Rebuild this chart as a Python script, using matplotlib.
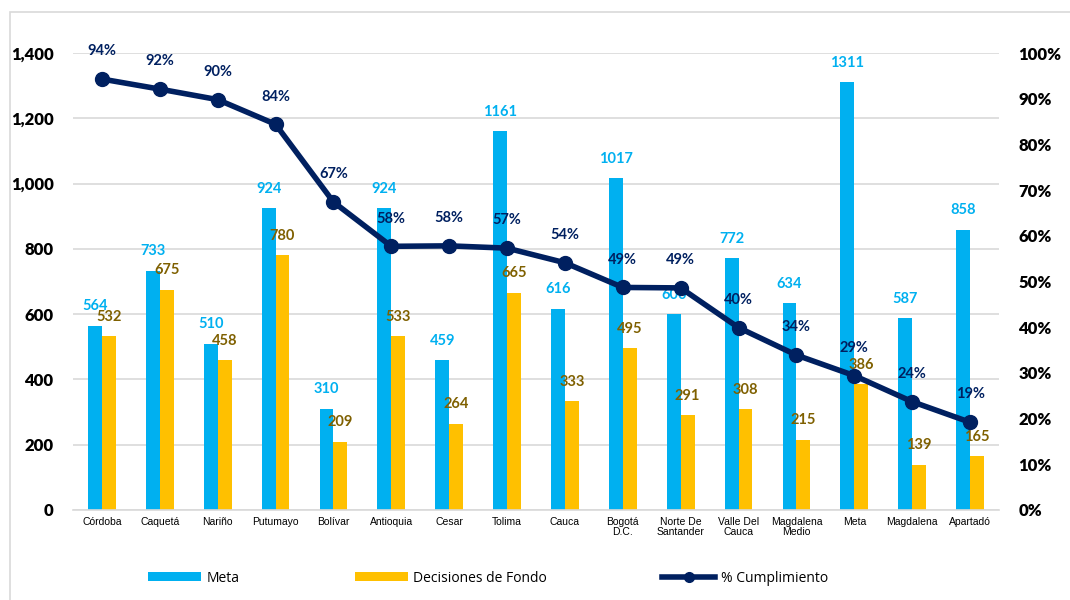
import matplotlib.pyplot as plt
import numpy as np
from matplotlib.patches import Rectangle
from matplotlib.ticker import FuncFormatter

# Data
regiones = ['Córdoba', 'Caquetá', 'Nariño', 'Putumayo', 'Bolívar', 'Antioquia',
            'Cesar', 'Tolima', 'Cauca', 'Bogotá\nD.C.', 'Norte De\nSantander',
            'Valle Del\nCauca', 'Magdalena\nMedio', 'Meta', 'Magdalena', 'Apartadó']
meta = [564, 733, 510, 924, 310, 924, 459, 1161, 616, 1017, 600, 772, 634, 1311, 587, 858]
decisiones = [532, 675, 458, 780, 209, 533, 264, 665, 333, 495, 291, 308, 215, 386, 139, 165]
cumplimiento = [0.943, 0.921, 0.898, 0.844, 0.674, 0.577, 0.578, 0.573,
                0.541, 0.487, 0.486, 0.399, 0.339, 0.294, 0.237, 0.192]

C_META = '#00B0F0'
C_DEC = '#FFC000'
C_DEC_TXT = '#7F6000'
C_LINE = '#002060'
FONT = 'Lato'

fig = plt.figure(figsize=(10.7, 6), dpi=100)
fig.patches.append(Rectangle((10 / 1070, -0.05), 1.1, 0.05 + (600 - 12) / 600,
                             transform=fig.transFigure, fill=False,
                             edgecolor='#D9D9D9', linewidth=1.2))

ax1 = fig.add_axes([73 / 1070, 90 / 600, 926 / 1070, 457 / 600])
ax2 = ax1.twinx()

x = np.arange(len(regiones))
w = 0.24

b1 = ax1.bar(x - w / 2, meta, w, color=C_META, label='Meta', zorder=2)
b2 = ax1.bar(x + w / 2, decisiones, w, color=C_DEC, label='Decisiones de Fondo', zorder=2)

for xi, v in zip(x, meta):
    ax1.annotate(str(v), (xi - w / 2, v), xytext=(0, 14), textcoords='offset points',
                 ha='center', va='center', color=C_META, fontsize=10.5,
                 fontweight='bold', family=FONT, annotation_clip=False, zorder=5)
for xi, v in zip(x, decisiones):
    ax1.annotate(str(v), (xi + w / 2, v), xytext=(0, 14), textcoords='offset points',
                 ha='center', va='center', color=C_DEC_TXT, fontsize=10.5,
                 fontweight='bold', family=FONT, annotation_clip=False, zorder=5)

ax1.set_ylim(0, 1400)
ax1.set_yticks(range(0, 1401, 200))
ax1.yaxis.set_major_formatter(FuncFormatter(lambda v, p: f'{int(v):,}'))
ax1.set_xlim(-0.5, len(regiones) - 0.5)
ax1.set_xticks(x)
ax1.set_xticklabels(regiones, fontsize=7.5, family='Liberation Sans', linespacing=1.0)
ax1.grid(axis='y', color='#D9D9D9', linewidth=1.2, zorder=0)
ax1.set_axisbelow(True)

ln, = ax2.plot(x, cumplimiento, color=C_LINE, linewidth=4, marker='o',
               markersize=10, label='% Cumplimiento', zorder=4)
for xi, v in zip(x, cumplimiento):
    ax2.annotate(f'{round(v * 100):.0f}%', (xi, v), xytext=(0, 20),
                 textcoords='offset points', ha='center', va='center',
                 color=C_LINE, fontsize=10.5, fontweight='bold', family=FONT,
                 annotation_clip=False, zorder=6)
ax2.set_ylim(0, 1.0)
ax2.set_yticks(np.arange(0, 1.01, 0.1))
ax2.yaxis.set_major_formatter(FuncFormatter(lambda v, p: f'{round(v * 100)}%'))
ax2.set_zorder(ax1.get_zorder() + 1)
ax2.patch.set_visible(False)

for ax in (ax1, ax2):
    for s in ax.spines.values():
        s.set_visible(False)
    ax.tick_params(length=0)
ax1.spines['bottom'].set_visible(True)
ax1.spines['bottom'].set_color('#D9D9D9')
ax1.spines['bottom'].set_linewidth(1.2)

for lab in ax1.get_yticklabels() + ax2.get_yticklabels():
    lab.set_fontsize(12)
    lab.set_fontweight('heavy')
    lab.set_family(FONT)
    lab.set_color('black')
ax1.tick_params(axis='y', pad=14)
ax2.tick_params(axis='y', pad=14)
ax1.tick_params(axis='x', pad=5)

fig.legend([b1, b2, ln], ['Meta', 'Decisiones de Fondo', '% Cumplimiento'],
           loc='center', bbox_to_anchor=(0.456, 22 / 600), ncol=3, frameon=False,
           handlelength=3.8, handleheight=0.6, columnspacing=8.3, handletextpad=0.4,
           markerscale=0.7, prop={'family': 'Open Sans', 'size': 10})

fig.savefig('out.png', dpi=100)
